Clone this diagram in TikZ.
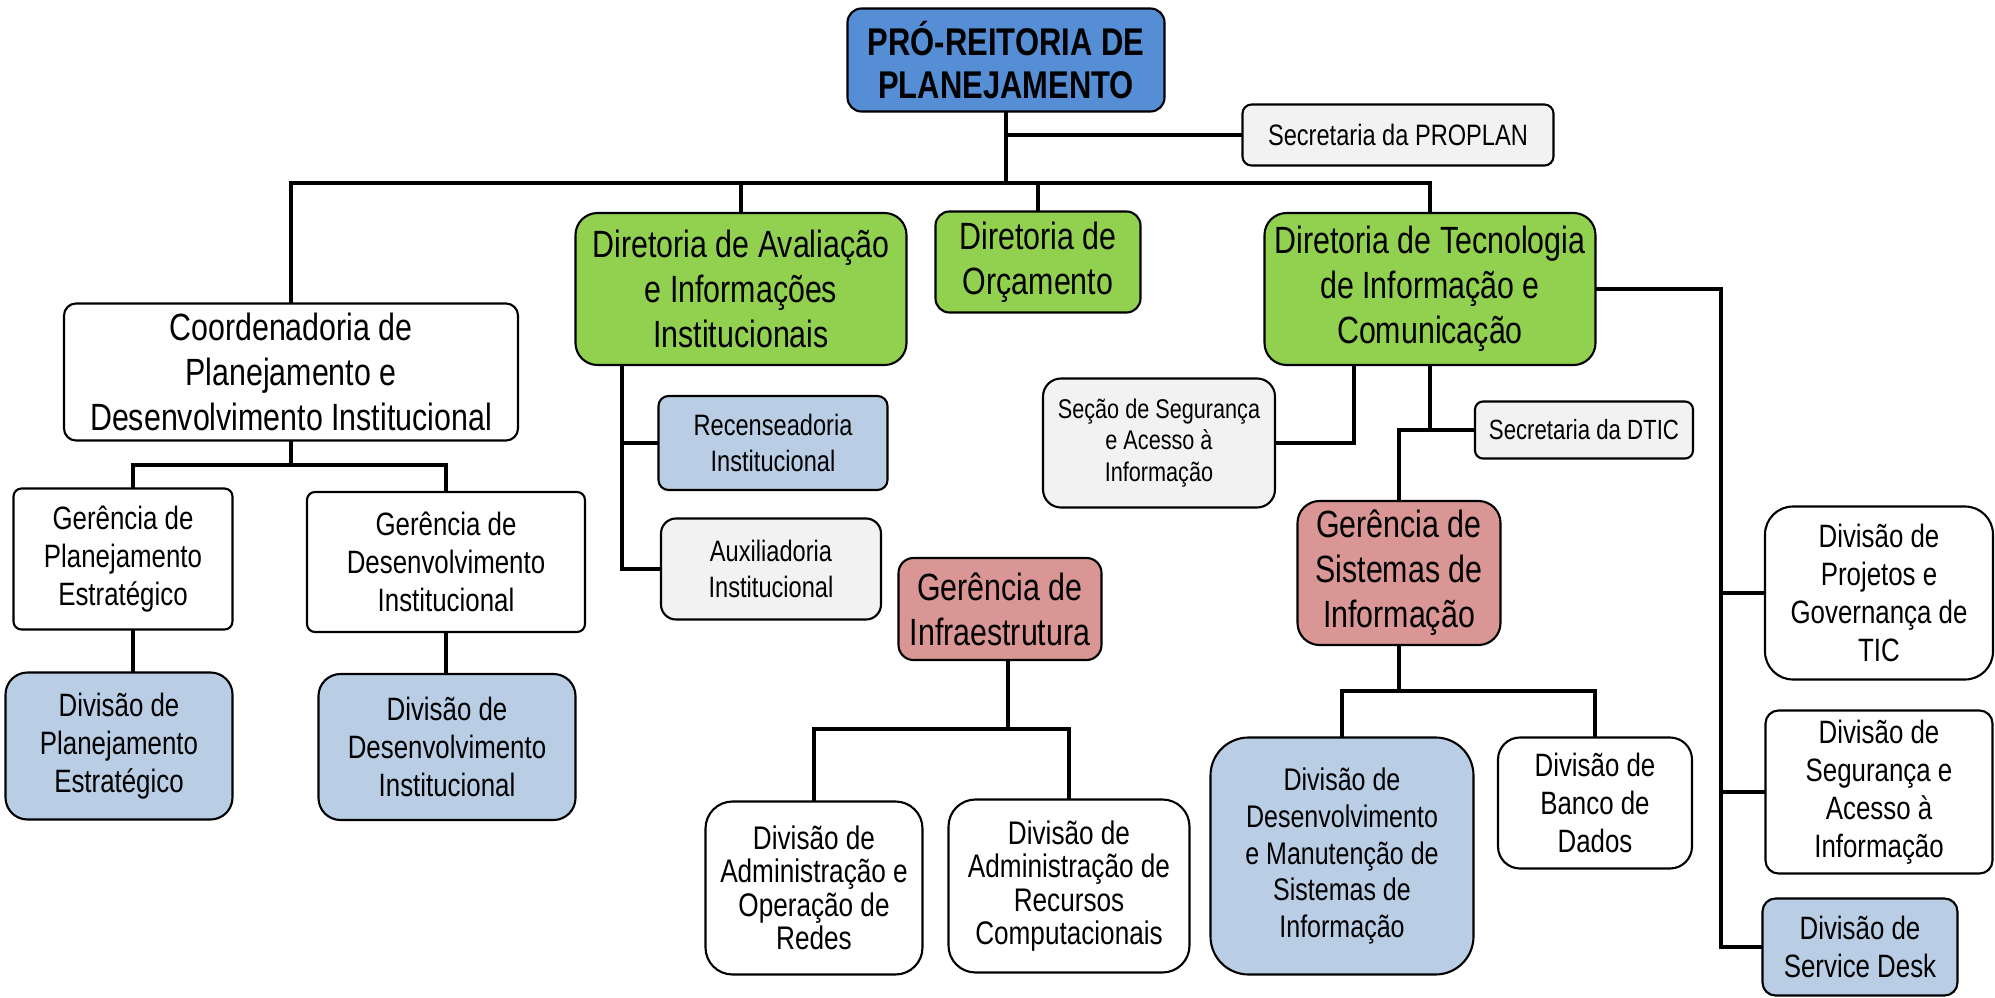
\documentclass[tikz,border=0pt]{standalone}
\usepackage{fontspec}
\setmainfont{Liberation Sans}[FakeStretch=0.8]

\definecolor{proBlue}{RGB}{85,142,213}
\definecolor{dirGreen}{RGB}{146,208,80}
\definecolor{gerRed}{RGB}{217,150,148}
\definecolor{divBlue}{RGB}{185,205,229}
\definecolor{secGray}{RGB}{242,242,242}

\begin{document}
\begin{tikzpicture}[x=0.1mm, y=-0.1mm,
    box/.style={rectangle,draw,line width=0.6pt,align=center,inner sep=1pt,outer sep=0pt},
    big/.style={font=\fontsize{10.8}{12.8}\selectfont},
    mid/.style={font=\fontsize{9.2}{10.8}\selectfont},
    small/.style={font=\fontsize{8.4}{10.2}\selectfont},
    dir/.style={box,big,fill=dirGreen},
    ger/.style={box,big,fill=gerRed},
    div/.style={box,mid,fill=divBlue},
    sec/.style={box,small,fill=secGray},
    link/.style={line width=1.1pt}
]

\useasboundingbox (0,0) rectangle (1995,998);

% Pro-reitoria and its secretaria
\node[box,fill=proBlue,font=\fontsize{11}{12.3}\selectfont\bfseries,minimum width=31.7mm,minimum height=10.3mm,rounded corners=1.4mm] (pro) at (1006,60) {PRÓ-REITORIA DE\\PLANEJAMENTO};
\node[sec,minimum width=31.1mm,minimum height=6.1mm,rounded corners=0.9mm] (secprop) at (1398,135) {Secretaria da PROPLAN};

% First level
\node[box,big,minimum width=45.4mm,minimum height=13.7mm,rounded corners=1.2mm] (cpdi) at (291,372) {Coordenadoria de\\Planejamento e\\Desenvolvimento Institucional};
\node[dir,minimum width=33.1mm,minimum height=15.2mm,rounded corners=2.2mm] (dai) at (741,289) {Diretoria de Avaliação\\e Informações\\Institucionais};
\node[dir,minimum width=20.5mm,minimum height=10.1mm,rounded corners=1.4mm] (dorc) at (1038,262) {Diretoria de\\Orçamento};
\node[dir,minimum width=33.1mm,minimum height=15.2mm,rounded corners=2.2mm] (dtic) at (1430,289) {Diretoria de Tecnologia\\de Informação e\\Comunicação};

% Coordenadoria
\node[box,mid,minimum width=21.9mm,minimum height=14.1mm,rounded corners=0.8mm] (gpe) at (123,559) {Gerência de\\Planejamento\\Estratégico};
\node[box,mid,minimum width=27.8mm,minimum height=14.0mm,rounded corners=0.8mm] (gdi) at (446,562) {Gerência de\\Desenvolvimento\\Institucional};
\node[div,minimum width=22.7mm,minimum height=14.7mm,rounded corners=2.2mm] (dpe) at (119,746) {Divisão de\\Planejamento\\Estratégico};
\node[div,minimum width=25.7mm,minimum height=14.6mm,rounded corners=2.2mm] (ddi) at (447,747) {Divisão de\\Desenvolvimento\\Institucional};

% Avaliacao
\node[div,small,minimum width=22.9mm,minimum height=9.4mm,rounded corners=1.0mm] (rec) at (773,443) {Recenseadoria\\Institucional};
\node[sec,minimum width=22.0mm,minimum height=10.1mm,rounded corners=1.5mm] (aux) at (771,569) {Auxiliadoria\\Institucional};

% DTIC
\node[ger,minimum width=20.3mm,minimum height=10.2mm,rounded corners=1.5mm] (ginf) at (1000,609) {Gerência de\\Infraestrutura};
\node[box,font=\fontsize{9.3}{9.5}\selectfont,minimum width=21.7mm,minimum height=17.3mm,rounded corners=2.7mm] (redes) at (814,888) {Divisão de\\Administração e\\Operação de\\Redes};
\node[box,font=\fontsize{9.3}{9.5}\selectfont,minimum width=24.1mm,minimum height=17.3mm,rounded corners=2.7mm] (recursos) at (1069,886) {Divisão de\\Administração de\\Recursos\\Computacionais};
\node[sec,font=\fontsize{7.7}{8.9}\selectfont,minimum width=23.2mm,minimum height=12.9mm,rounded corners=1.8mm] (secao) at (1159,443) {Seção de Segurança\\e Acesso à\\Informação};
\node[sec,font=\fontsize{7.9}{9}\selectfont,minimum width=21.8mm,minimum height=5.7mm,rounded corners=0.8mm] (secdtic) at (1584,430) {Secretaria da DTIC};
\node[ger,minimum width=20.3mm,minimum height=14.4mm,rounded corners=2.2mm] (gsi) at (1399,573) {Gerência de\\Sistemas de\\Informação};
\node[div,font=\fontsize{8.9}{10.4}\selectfont,minimum width=26.3mm,minimum height=23.7mm,rounded corners=3.8mm] (ddmsi) at (1342,856) {Divisão de\\Desenvolvimento\\e Manutenção de\\Sistemas de\\Informação};
\node[box,mid,minimum width=19.4mm,minimum height=13.1mm,rounded corners=2.2mm] (dbd) at (1595,803) {Divisão de\\Banco de\\Dados};
\node[box,mid,minimum width=22.8mm,minimum height=17.3mm,rounded corners=2.8mm] (proj) at (1879,593) {Divisão de\\Projetos e\\Governança de\\TIC};
\node[box,mid,minimum width=22.7mm,minimum height=16.3mm,rounded corners=1.3mm] (seg) at (1879,792) {Divisão de\\Segurança e\\Acesso à\\Informação};
\node[div,minimum width=19.5mm,minimum height=9.7mm,rounded corners=1.3mm] (sd) at (1860,947) {Divisão de\\Service Desk};

% bus points
\coordinate (bus) at (1006,183);
\coordinate (cpbus) at (291,465);
\coordinate (jpe) at (133,465);
\coordinate (dail) at (622,365);
\coordinate (ibus) at (1008,729);
\coordinate (dsl) at (1354,365);
\coordinate (gbus) at (1399,691);
\coordinate (rv) at (1721,289);

% top level
\draw[link] (pro.south) -- (bus);
\draw[link] (pro.south) |- (secprop.west);
\draw[link] (cpdi.north) -- (cpdi.north |- bus) -- (dtic.north |- bus) -- (dtic.north);
\draw[link] (dai.north) -- (dai.north |- bus);
\draw[link] (dorc.north) -- (dorc.north |- bus);

% coordenadoria
\draw[link] (cpdi.south) -- (cpbus);
\draw[link] (jpe |- gpe.north) -- (jpe) -- (cpbus -| gdi.north) -- (gdi.north);
\draw[link] (gpe.south -| jpe) -- (dpe.north -| jpe);
\draw[link] (gdi.south) -- (gdi.south |- ddi.north);

% avaliacao
\draw[link] (dail) |- (rec.west);
\draw[link] (dail) |- (aux.west);

% infraestrutura
\draw[link] (ibus |- ginf.south) -- (ibus);
\draw[link] (redes.north) |- (ibus) -| (recursos.north);

% dtic
\draw[link] (dsl) |- (secao.east);
\draw[link] (dtic.south) |- (secdtic.west);
\draw[link] (gsi.north) |- (secdtic.west);
\draw[link] (gsi.south) -- (gbus);
\draw[link] (ddmsi.north) |- (gbus) -| (dbd.north);
\draw[link] (dtic.east) -- (rv) |- (sd.west);
\draw[link] (rv |- proj.west) -- (proj.west);
\draw[link] (rv |- seg.west) -- (seg.west);

\end{tikzpicture}
\end{document}
